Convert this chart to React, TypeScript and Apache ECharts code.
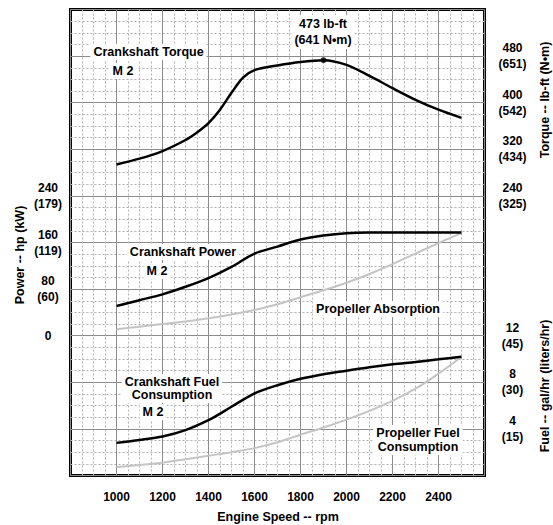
import React, { useEffect, useRef } from "react";
import * as echarts from "echarts";

// ---- data ----
const rpm = [1000, 1100, 1200, 1300, 1400, 1500, 1600, 1700, 1800, 1900, 2000, 2100, 2200, 2300, 2400, 2500];
const torqueRpm = [1000, 1100, 1200, 1300, 1350, 1400, 1450, 1500, 1550, 1600, 1700, 1800, 1900, 2000, 2100, 2200, 2300, 2400, 2500];
const crankTorque = [294, 304, 317, 336, 349, 365, 388, 417, 443, 456, 464, 470, 473, 465, 446, 425, 405, 388, 374];
const crankPower = [51, 61, 71, 84, 99, 118, 141, 153, 165, 172, 176, 177, 177, 177, 177, 177];
const propPower = [11, 15.5, 20, 24.5, 30, 36.5, 44, 54, 66, 78, 91, 106, 123, 141, 159, 176];
const crankFuel = [2.8, 3.05, 3.35, 3.9, 4.75, 5.9, 7.05, 7.75, 8.3, 8.7, 9.0, 9.3, 9.55, 9.75, 9.97, 10.2];
const propFuel = [0.72, 0.9, 1.1, 1.4, 1.7, 2.0, 2.35, 2.85, 3.5, 4.12, 4.8, 5.55, 6.4, 7.45, 8.75, 10.2];

const peakRpm = 1900;
const peakTorqueLbft = 473;
const peakTorqueNm = 641;

const xTickLabels = [1000, 1200, 1400, 1600, 1800, 2000, 2200, 2400];
const powerTicksHp = [0, 80, 160, 240];
const powerTicksKw = [null, 60, 119, 179];
const torqueTicksLbft = [240, 320, 400, 480];
const torqueTicksNm = [325, 434, 542, 651];
const fuelTicksGal = [4, 8, 12];
const fuelTicksL = [15, 30, 45];

const FONT = '"Liberation Sans", Arial, Helvetica, sans-serif';
const BLACK = "#000";
const GRAY = "#c4c4c4";

function pairs(xs: number[], ys: number[]) {
  return xs.map((r, i) => [r, ys[i]]);
}

function txt(text: string, x: number, y: number, opts: any = {}) {
  return {
    type: "text",
    x,
    y,
    rotation: opts.rotation || 0,
    z: 100,
    style: {
      text,
      x: 0,
      y: 0,
      align: "center",
      verticalAlign: "middle",
      fill: BLACK,
      fontFamily: FONT,
      fontWeight: "bold",
      fontSize: opts.fontSize || 12.5,
      lineHeight: opts.lineHeight || 14,
      backgroundColor: opts.bg === false ? undefined : "#fff",
      padding: opts.bg === false ? 0 : [1, 3],
    },
  };
}

export default function App() {
  const ref = useRef<HTMLDivElement>(null);
  useEffect(() => {
    if (!ref.current) return;
    const chart = echarts.init(ref.current, null, { renderer: "svg" });
    const lineSeries = (xs: number[], ys: number[], yAxisIndex: number, color: string, width: number) => ({
      type: "line",
      yAxisIndex,
      data: pairs(xs, ys),
      smooth: 0.3,
      showSymbol: false,
      symbol: "none",
      lineStyle: { color, width },
      z: 5,
    });
    const labelStyle = {
      color: BLACK,
      fontFamily: FONT,
      fontWeight: "bold",
      fontSize: 12,
      lineHeight: 16,
      align: "center",
    };
    const major = { show: true, lineStyle: { color: "#8c8c8c", width: 1 } };
    const minor = { show: true, lineStyle: { color: "#b0b0b0", width: 1, type: [2, 2] } };
    chart.setOption({
      animation: false,
      backgroundColor: "#fff",
      grid: {
        left: 70.5,
        right: 68.5,
        top: 9.5,
        bottom: 49.5,
        show: true,
        borderColor: BLACK,
        borderWidth: 3,
        backgroundColor: "transparent",
      },
      xAxis: {
        type: "value",
        min: 800,
        max: 2600,
        interval: 200,
        axisLine: { show: false },
        axisTick: { show: false },
        axisLabel: {
          ...labelStyle,
          margin: 13,
          formatter: (v: number) => (xTickLabels.includes(v) ? String(v) : ""),
        },
        splitLine: major,
        minorTick: { show: false, splitNumber: 4 },
        minorSplitLine: minor,
      },
      yAxis: [
        {
          type: "value",
          position: "left",
          min: -240,
          max: 560,
          interval: 80,
          axisLine: { show: false },
          axisTick: { show: false },
          axisLabel: {
            ...labelStyle,
            margin: 22.5,
            formatter: (v: number) => {
              const i = powerTicksHp.indexOf(v);
              if (i < 0) return "";
              const kw = powerTicksKw[i];
              return kw == null ? String(v) : `${v}\n(${kw})`;
            },
          },
          splitLine: major,
          minorTick: { show: false, splitNumber: 4 },
          minorSplitLine: minor,
        },
        {
          type: "value",
          position: "right",
          min: -240,
          max: 560,
          interval: 80,
          axisLine: { show: false },
          axisTick: { show: false },
          splitLine: { show: false },
          axisLabel: {
            ...labelStyle,
            margin: 28,
            formatter: (v: number) => {
              const i = torqueTicksLbft.indexOf(v);
              return i < 0 ? "" : `${v}\n(${torqueTicksNm[i]})`;
            },
          },
        },
        {
          type: "value",
          position: "right",
          min: 0,
          max: 40,
          interval: 4,
          axisLine: { show: false },
          axisTick: { show: false },
          splitLine: { show: false },
          axisLabel: {
            ...labelStyle,
            margin: 28,
            formatter: (v: number) => {
              const i = fuelTicksGal.indexOf(v);
              return i < 0 ? "" : `${v}\n(${fuelTicksL[i]})`;
            },
          },
        },
      ],
      series: [
        lineSeries(rpm, propPower, 0, GRAY, 2),
        lineSeries(rpm, crankPower, 0, BLACK, 2.5),
        lineSeries(torqueRpm, crankTorque, 1, BLACK, 2.5),
        lineSeries(rpm, propFuel, 2, GRAY, 2),
        lineSeries(rpm, crankFuel, 2, BLACK, 2.5),
        {
          type: "scatter",
          yAxisIndex: 1,
          data: [[peakRpm, peakTorqueLbft]],
          symbol: "circle",
          symbolSize: 6,
          itemStyle: { color: BLACK },
          z: 6,
        },
      ],
      graphic: [
        txt(`${peakTorqueLbft} lb-ft\n(${peakTorqueNm} N•m)`, 323, 32, { lineHeight: 16 }),
        txt("Crankshaft Torque", 148.5, 52),
        txt("M 2", 123, 71),
        txt("Crankshaft Power", 183, 252),
        txt("M 2", 157, 271),
        txt("Propeller Absorption", 378, 309),
        txt("Crankshaft Fuel\nConsumption", 172, 388.5, { lineHeight: 13.5 }),
        txt("M 2", 153, 412),
        txt("Propeller Fuel\nConsumption", 418, 440, { lineHeight: 14 }),
        txt("Power -- hp (kW)", 20, 255, { rotation: Math.PI / 2, bg: false }),
        txt("Torque -- lb-ft (N•m)", 545, 100, { rotation: Math.PI / 2, bg: false }),
        txt("Fuel -- gal/hr (liters/hr)", 545, 386, { rotation: Math.PI / 2, bg: false }),
        txt("Engine Speed -- rpm", 278, 517, { bg: false }),
      ],
    });
    return () => chart.dispose();
  }, []);
  return (
    <div
      ref={ref}
      style={{ position: "fixed", left: 0, top: 0, width: 553, height: 525, background: "#fff" }}
    />
  );
}
